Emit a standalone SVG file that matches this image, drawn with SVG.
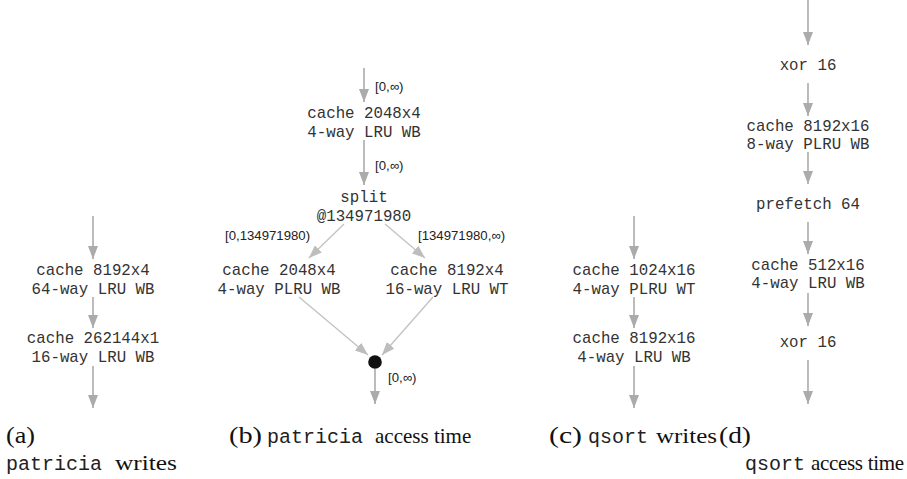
<svg xmlns="http://www.w3.org/2000/svg" width="907" height="479" viewBox="0 0 907 479">
  <style>
    .n { font-family: "Liberation Mono", "DejaVu Sans Mono", monospace; font-size: 15.75px; fill: #333; text-anchor: middle; }
    .lbl { font-family: "Liberation Sans", Arial, sans-serif; font-size: 13.2px; fill: #222; }
    .cap { font-family: "Liberation Serif", "Times New Roman", serif; font-size: 21px; fill: #111; }
    .p { font-size: 24px; }
    .tt { font-family: "Liberation Mono", "DejaVu Sans Mono", monospace; font-size: 20px; fill: #222; }
    .e { stroke: #ababab; stroke-width: 1.6; fill: none; marker-end: url(#ah); }
    .d { stroke: #c2c2c2; stroke-width: 1.3; fill: none; marker-end: url(#ahl); }
  </style>
  <defs>
    <marker id="ah" viewBox="0 0 13 10" refX="13" refY="5" markerWidth="13" markerHeight="10" markerUnits="userSpaceOnUse" orient="auto">
      <path d="M0,0 L13,5 L0,10 z" fill="#ababab"/>
    </marker>
    <marker id="ahl" viewBox="0 0 13 10" refX="13" refY="5" markerWidth="13" markerHeight="10" markerUnits="userSpaceOnUse" orient="auto">
      <path d="M0,0 L13,5 L0,10 z" fill="#bdbdbd"/>
    </marker>
  </defs>

  <!-- connectors -->
  <g id="edges">
    <!-- (a) patricia writes -->
    <line class="e" x1="93" y1="216" x2="93" y2="259"/>
    <line class="e" x1="93" y1="297" x2="93" y2="328"/>
    <line class="e" x1="93" y1="366" x2="93" y2="408"/>
    <!-- (b) patricia access time -->
    <line class="e" x1="364" y1="68" x2="364" y2="102"/>
    <line class="e" x1="364" y1="140" x2="364" y2="185"/>
    <line class="d" x1="344" y1="224" x2="309" y2="258"/>
    <line class="d" x1="385" y1="224" x2="425" y2="258"/>
    <line class="d" x1="299" y1="297" x2="368" y2="355"/>
    <line class="d" x1="433" y1="297" x2="382" y2="355"/>
    <line class="e" x1="375" y1="369" x2="375" y2="404"/>
    <!-- (c) qsort writes -->
    <line class="e" x1="634" y1="216" x2="634" y2="259"/>
    <line class="e" x1="634" y1="297" x2="634" y2="328"/>
    <line class="e" x1="634" y1="366" x2="634" y2="408"/>
    <!-- (d) qsort access time -->
    <line class="e" x1="808" y1="0" x2="808" y2="45"/>
    <line class="e" x1="808" y1="83" x2="808" y2="116"/>
    <line class="e" x1="808" y1="152" x2="808" y2="184"/>
    <line class="e" x1="808" y1="222" x2="808" y2="254"/>
    <line class="e" x1="808" y1="293" x2="808" y2="326"/>
    <line class="e" x1="808" y1="360" x2="808" y2="404"/>
  </g>

  <!-- edge labels -->
  <g id="edge-labels">
    <text class="lbl" x="375" y="91">[0,∞)</text>
    <text class="lbl" x="375" y="170">[0,∞)</text>
    <text class="lbl" x="225" y="240">[0,134971980)</text>
    <text class="lbl" x="418" y="240">[134971980,∞)</text>
    <text class="lbl" x="388" y="382">[0,∞)</text>
  </g>

  <!-- (a) nodes -->
  <g id="a-cache1">
    <text class="n" x="93" y="275">cache 8192x4</text>
    <text class="n" x="93" y="294">64-way LRU WB</text>
  </g>
  <g id="a-cache2">
    <text class="n" x="93" y="343">cache 262144x1</text>
    <text class="n" x="93" y="362">16-way LRU WB</text>
  </g>

  <!-- (b) nodes -->
  <g id="b-cache1">
    <text class="n" x="364" y="118">cache 2048x4</text>
    <text class="n" x="364" y="137">4-way LRU WB</text>
  </g>
  <g id="b-split">
    <text class="n" x="364" y="202">split</text>
    <text class="n" x="364" y="221">@134971980</text>
  </g>
  <g id="b-cache-left">
    <text class="n" x="279" y="275">cache 2048x4</text>
    <text class="n" x="279" y="294">4-way PLRU WB</text>
  </g>
  <g id="b-cache-right">
    <text class="n" x="447" y="275">cache 8192x4</text>
    <text class="n" x="447" y="294">16-way LRU WT</text>
  </g>
  <g id="b-merge">
    <circle cx="375" cy="362" r="6.8" fill="#111"/>
  </g>

  <!-- (c) nodes -->
  <g id="c-cache1">
    <text class="n" x="634" y="275">cache 1024x16</text>
    <text class="n" x="634" y="294">4-way PLRU WT</text>
  </g>
  <g id="c-cache2">
    <text class="n" x="634" y="343">cache 8192x16</text>
    <text class="n" x="634" y="362">4-way LRU WB</text>
  </g>

  <!-- (d) nodes -->
  <g id="d-xor1">
    <text class="n" x="808" y="70">xor 16</text>
  </g>
  <g id="d-cache1">
    <text class="n" x="808" y="131">cache 8192x16</text>
    <text class="n" x="808" y="149">8-way PLRU WB</text>
  </g>
  <g id="d-prefetch">
    <text class="n" x="808" y="209">prefetch 64</text>
  </g>
  <g id="d-cache2">
    <text class="n" x="808" y="270">cache 512x16</text>
    <text class="n" x="808" y="288">4-way LRU WB</text>
  </g>
  <g id="d-xor2">
    <text class="n" x="808" y="347">xor 16</text>
  </g>

  <!-- captions -->
  <g id="captions">
    <text class="cap p" x="6" y="443" textLength="29" lengthAdjust="spacingAndGlyphs">(a)</text>
    <text class="cap" y="470"><tspan class="tt" x="6">patricia</tspan><tspan x="115" textLength="62" lengthAdjust="spacingAndGlyphs">writes</tspan></text>
    <text class="cap" y="443"><tspan class="p" x="229" textLength="33" lengthAdjust="spacingAndGlyphs">(b)</tspan><tspan class="tt" x="267">patricia</tspan><tspan x="375">access time</tspan></text>
    <text class="cap" y="443"><tspan class="p" x="549" textLength="33" lengthAdjust="spacingAndGlyphs">(c)</tspan><tspan class="tt" x="588">qsort</tspan><tspan x="656" textLength="61" lengthAdjust="spacingAndGlyphs">writes</tspan><tspan class="p" x="719" textLength="32" lengthAdjust="spacingAndGlyphs">(d)</tspan></text>
    <text class="cap" y="470"><tspan class="tt" x="745">qsort</tspan><tspan x="811" textLength="93">access time</tspan></text>
  </g>
</svg>
